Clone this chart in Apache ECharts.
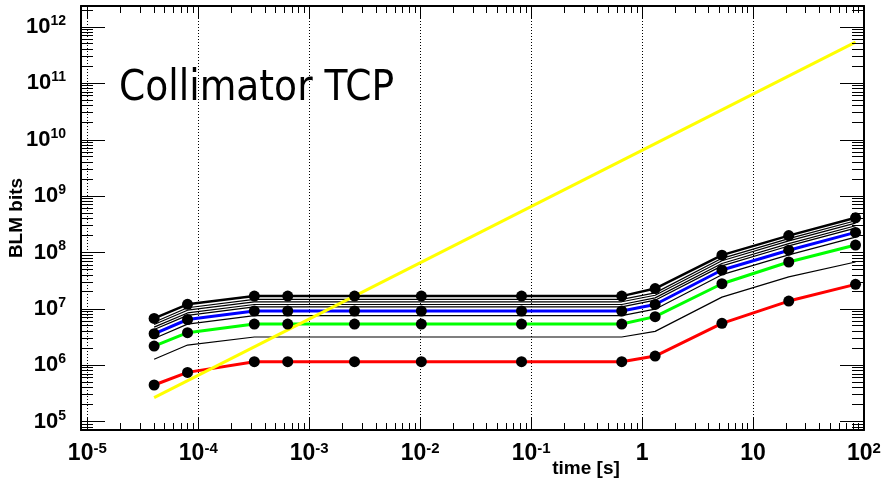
<!DOCTYPE html>
<html><head><meta charset="utf-8">
<script src="https://cdn.jsdelivr.net/npm/echarts@6/dist/echarts.min.js"></script>
<style>html,body{margin:0;padding:0;background:#fff}#c{width:882px;height:480px}</style>
</head><body><div id="c"></div>
<script>
// running-sum integration times [s]
const times = [4e-5, 8e-5, 3.2e-4, 6.4e-4, 2.56e-3, 1.024e-2, 8.192e-2, 0.65536, 1.31072, 5.24288, 20.97152, 83.88608];

// threshold curves (BLM bits)
const blackTop = [6.8e6, 1.21e7, 1.69e7, 1.69e7, 1.69e7, 1.69e7, 1.69e7, 1.69e7, 2.3e7, 9.0e7, 2.0e8, 4.14e8];
const black1   = [5.8e6, 1.05e7, 1.48e7, 1.48e7, 1.48e7, 1.48e7, 1.48e7, 1.48e7, 1.93e7, 7.9e7, 1.77e8, 3.67e8];
const black2   = [5.3e6, 9.5e6, 1.34e7, 1.34e7, 1.34e7, 1.34e7, 1.34e7, 1.34e7, 1.75e7, 7.15e7, 1.61e8, 3.33e8];
const black3   = [4.76e6, 8.5e6, 1.2e7, 1.2e7, 1.2e7, 1.2e7, 1.2e7, 1.2e7, 1.57e7, 6.4e7, 1.44e8, 2.99e8];
const black4   = [4.32e6, 7.7e6, 1.09e7, 1.09e7, 1.09e7, 1.09e7, 1.09e7, 1.09e7, 1.43e7, 5.8e7, 1.31e8, 2.71e8];
const blue     = [3.63e6, 6.5e6, 9.2e6, 9.2e6, 9.2e6, 9.2e6, 9.2e6, 9.2e6, 1.2e7, 4.9e7, 1.1e8, 2.28e8];
const black5   = [3.0e6, 5.37e6, 7.6e6, 7.6e6, 7.6e6, 7.6e6, 7.6e6, 7.6e6, 9.9e6, 4.05e7, 9.1e7, 1.88e8];
const green    = [2.2e6, 3.8e6, 5.4e6, 5.4e6, 5.4e6, 5.4e6, 5.4e6, 5.4e6, 7.3e6, 2.8e7, 6.8e7, 1.36e8];
const blackLow = [1.28e6, 2.29e6, 3.18e6, 3.18e6, 3.18e6, 3.18e6, 3.18e6, 3.18e6, 4.0e6, 1.62e7, 3.7e7, 6.8e7];
const red      = [4.48e5, 7.5e5, 1.16e6, 1.16e6, 1.16e6, 1.16e6, 1.16e6, 1.16e6, 1.46e6, 5.56e6, 1.38e7, 2.73e7];

// yellow straight line (endpoints)
const yellowTimes = [4e-5, 83.88608];
const yellowVals  = [2.67e5, 5.4e11];

// axis ranges and tick labels
const X_MIN = 8.77e-6, X_MAX = 100, Y_MIN = 7.13e4, Y_MAX = 2.36e12;
const xTickLabels = {'-5':'{b|10}{s|-5}','-4':'{b|10}{s|-4}','-3':'{b|10}{s|-3}','-2':'{b|10}{s|-2}','-1':'{b|10}{s|-1}','0':'{b|1}','1':'{b|10}','2':'{b|10}{s|2}'};
const yTickLabels = {'5':'{b|10}{s|5}','6':'{b|10}{s|6}','7':'{b|10}{s|7}','8':'{b|10}{s|8}','9':'{b|10}{s|9}','10':'{b|10}{s|10}','11':'{b|10}{s|11}','12':'{b|10}{s|12}'};
const xDecades = [-5, -4, -3, -2, -1, 0, 1];
const yDecades = [4, 5, 6, 7, 8, 9, 10, 11, 12];
const minorMult = [2, 3, 4, 5, 6, 7, 8, 9];

const xMinor = [], yMinor = [];
xDecades.forEach(d => minorMult.forEach(m => { const v = m * Math.pow(10, d); if (v > X_MIN && v < X_MAX) xMinor.push(v); }));
yDecades.forEach(d => minorMult.forEach(m => { const v = m * Math.pow(10, d); if (v > Y_MIN && v < Y_MAX) yMinor.push(v); }));

function expOf(v) { const e = Math.log10(v); const r = Math.round(e); return Math.abs(e - r) < 0.01 ? r : null; }
const FONT = '"Liberation Sans", Arial, Helvetica, sans-serif';

function pairs(xs, ys) { return xs.map((t, i) => [t, ys[i]]); }
function line(values, color, width, z) {
  return {type: 'line', data: pairs(times, values), symbol: 'none', showSymbol: false,
    lineStyle: {color: color, width: width, opacity: 1}, itemStyle: {color: color}, z: z, silent: true, animation: false};
}
function markers(values) {
  return {type: 'scatter', data: pairs(times, values), symbol: 'circle', symbolSize: 11,
    itemStyle: {color: '#000', opacity: 1}, z: 20, silent: true, animation: false};
}
function crisp(v) { return Math.round(v - 0.5) + 0.5; }

const richX = {b: {fontFamily: FONT, fontWeight: 'bold', fontSize: 23, lineHeight: 26, color: '#000'},
               s: {fontFamily: FONT, fontWeight: 'bold', fontSize: 15, lineHeight: 11, verticalAlign: 'top', color: '#000'}};
const richY = {b: {fontFamily: FONT, fontWeight: 'bold', fontSize: 22, lineHeight: 26, color: '#000'},
               s: {fontFamily: FONT, fontWeight: 'bold', fontSize: 14, lineHeight: 12, verticalAlign: 'top', color: '#000'}};

const frameLine = {show: true, onZero: false, lineStyle: {color: '#000', width: 2}};

const chart = echarts.init(document.getElementById('c'), null, {renderer: 'canvas'});
chart.setOption({
  animation: false,
  backgroundColor: '#fff',
  grid: {left: 81, right: 18, top: 6, bottom: 50, containLabel: false, outerBoundsMode: 'none'},
  xAxis: [
    {type: 'log', position: 'bottom', min: X_MIN, max: X_MAX, logBase: 10,
     axisLine: frameLine,
     axisTick: {show: true, inside: true, length: 13, lineStyle: {color: '#000', width: 1}},
     axisLabel: {margin: 11, showMinLabel: false, rich: richX,
       formatter: v => { const e = expOf(v); return e === null ? '' : (xTickLabels[e] || ''); }},
     splitLine: {show: true, lineStyle: {color: '#000', width: 1, type: [1, 2]}},
     minorTick: {show: false}},
    {type: 'log', position: 'top', min: X_MIN, max: X_MAX, logBase: 10,
     axisLine: frameLine,
     axisTick: {show: true, inside: true, length: 13, lineStyle: {color: '#000', width: 1}},
     axisLabel: {show: false}, splitLine: {show: false}}
  ],
  yAxis: [
    {type: 'log', position: 'left', min: Y_MIN, max: Y_MAX, logBase: 10,
     name: 'BLM bits', nameLocation: 'middle', nameGap: 55, nameMoveOverlap: false,
     nameTextStyle: {fontFamily: FONT, fontWeight: 'bold', fontSize: 19, color: '#000'},
     axisLine: frameLine,
     axisTick: {show: true, inside: true, length: 24, lineStyle: {color: '#000', width: 1}},
     axisLabel: {margin: 15, showMinLabel: false, showMaxLabel: false, rich: richY,
       formatter: v => { const e = expOf(v); return e === null ? '' : (yTickLabels[e] || ''); }},
     splitLine: {show: false}},
    {type: 'log', position: 'right', min: Y_MIN, max: Y_MAX, logBase: 10,
     axisLine: frameLine,
     axisTick: {show: true, inside: true, length: 24, lineStyle: {color: '#000', width: 1}},
     axisLabel: {show: false}, splitLine: {show: false}}
  ],
  graphic: [
    {type: 'text', x: 119, y: 89, scaleX: 0.875, silent: true,
     style: {text: 'Collimator TCP', font: '43px "DejaVu Sans", sans-serif', fill: '#000', verticalAlign: 'middle', align: 'left'}},
    {type: 'text', x: 586, y: 469, silent: true,
     style: {text: 'time [s]', font: 'bold 19px ' + FONT, fill: '#000', verticalAlign: 'middle', align: 'center'}}
  ],
  series: [
    // minor ticks on bottom/top
    {type: 'custom', silent: true, clip: false, z: 15, data: xMinor.map(v => [v, Y_MAX]),
     renderItem: (params, api) => {
       const cs = params.coordSys; const px = crisp(api.coord([api.value(0), api.value(1)])[0]);
       const b = cs.y + cs.height, t = cs.y;
       return {type: 'group', children: [
         {type: 'line', shape: {x1: px, y1: b, x2: px, y2: b - 7}, style: {stroke: '#000', lineWidth: 1}},
         {type: 'line', shape: {x1: px, y1: t, x2: px, y2: t + 7}, style: {stroke: '#000', lineWidth: 1}}]};
     }},
    // minor ticks on left/right
    {type: 'custom', silent: true, clip: false, z: 15, data: yMinor.map(v => [X_MAX, v]),
     renderItem: (params, api) => {
       const cs = params.coordSys; const py = crisp(api.coord([api.value(0), api.value(1)])[1]);
       const l = cs.x, r = cs.x + cs.width;
       return {type: 'group', children: [
         {type: 'line', shape: {x1: l, y1: py, x2: l + 12, y2: py}, style: {stroke: '#000', lineWidth: 1}},
         {type: 'line', shape: {x1: r, y1: py, x2: r - 12, y2: py}, style: {stroke: '#000', lineWidth: 1}}]};
     }},
    line(blackLow, '#000', 1.2, 2),
    line(black5, '#000', 1.2, 2),
    line(black4, '#000', 1.2, 2),
    line(black3, '#000', 1.2, 2),
    line(black2, '#000', 1.2, 2),
    line(black1, '#000', 1.2, 2),
    line(red, '#ff0000', 3, 3),
    line(green, '#00ff00', 3, 3),
    line(blue, '#0000ff', 3, 3),
    line(blackTop, '#000', 2.5, 3),
    {type: 'line', data: pairs(yellowTimes, yellowVals), symbol: 'none', showSymbol: false,
     lineStyle: {color: '#ffff00', width: 3}, z: 5, silent: true, animation: false},
    markers(blackTop), markers(blue), markers(green), markers(red)
  ]
});
</script></body></html>
